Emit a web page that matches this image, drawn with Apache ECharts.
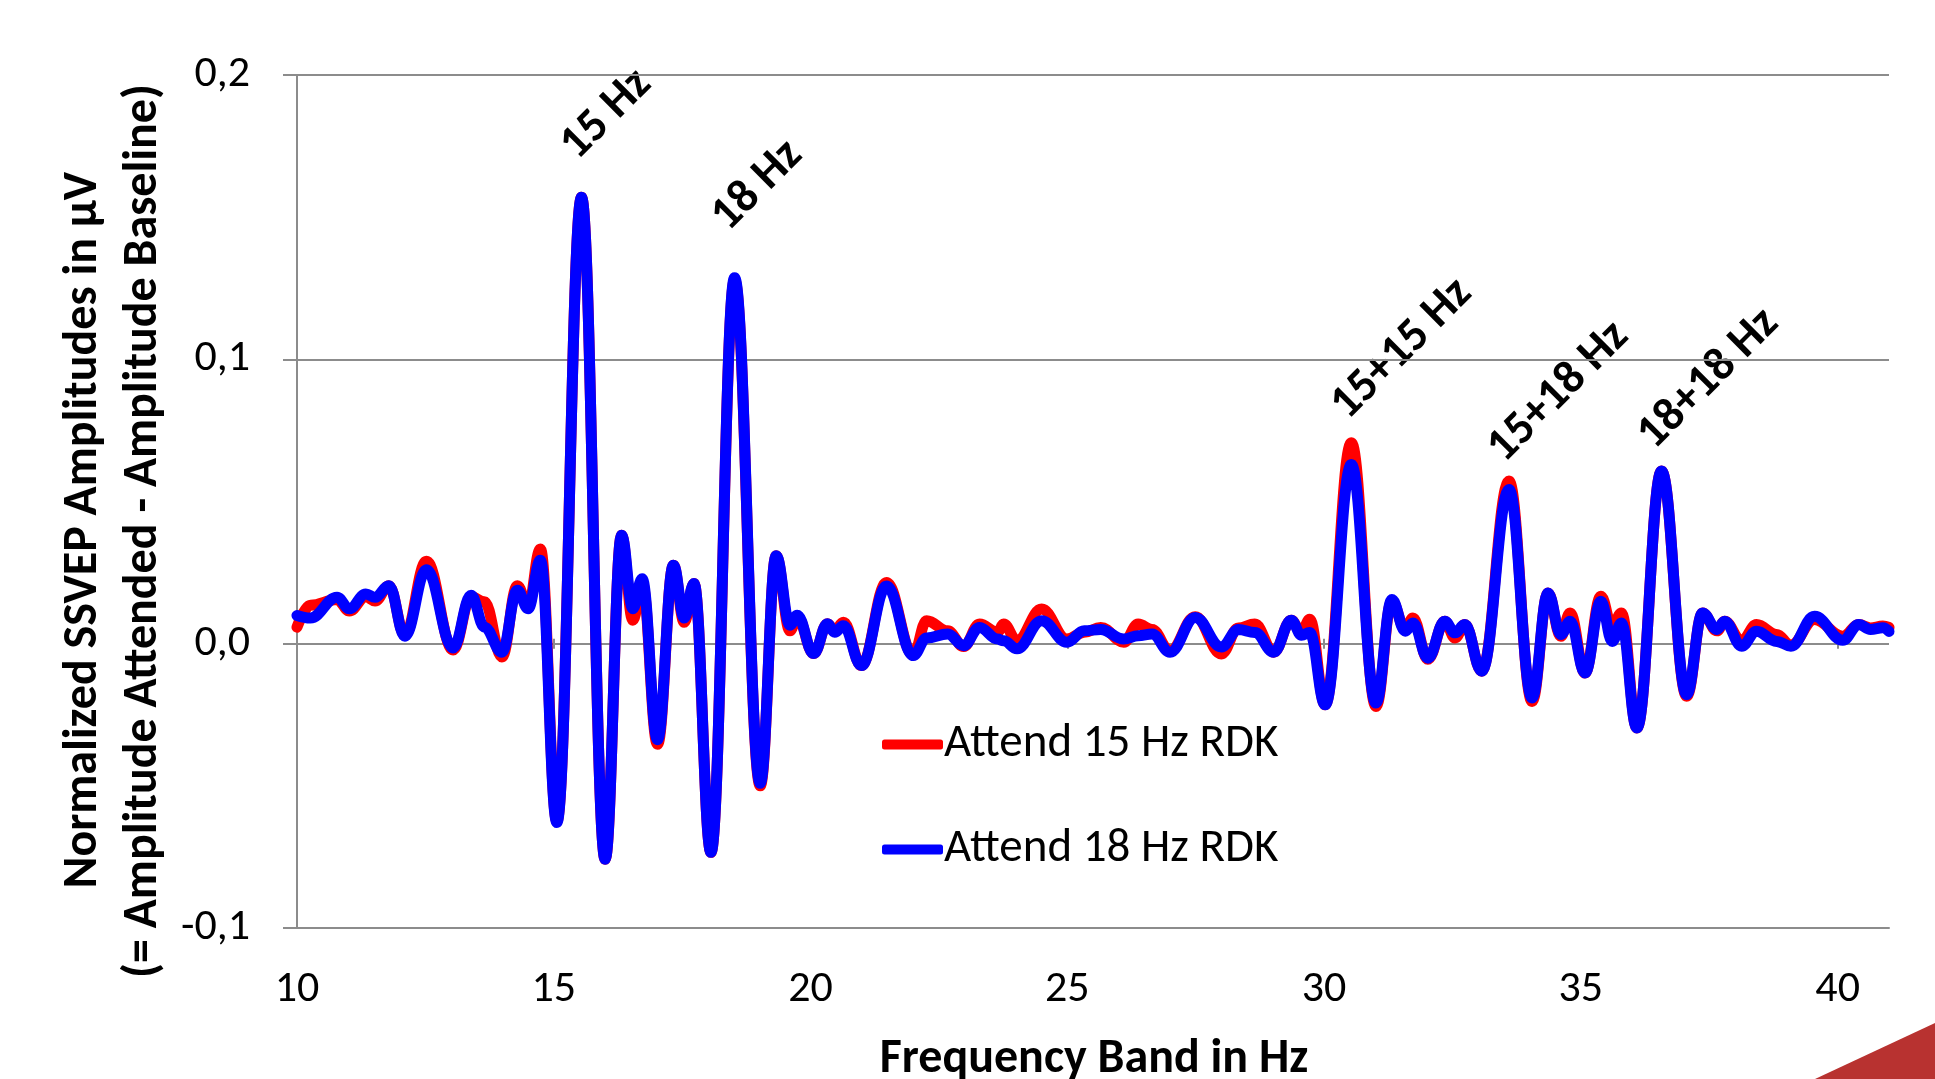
<!DOCTYPE html>
<html>
<head>
<meta charset="utf-8">
<title>Normalized SSVEP Amplitudes</title>
<script src="https://cdn.jsdelivr.net/npm/echarts@6.0.0/dist/echarts.min.js"></script>
<style>
  html, body { margin: 0; padding: 0; background: #fff; }
  #container { width: 1935px; height: 1079px; }
</style>
</head>
<body>
<div id="container"></div>
<script>
// frequency bins in Hz (at the extrema of the curves)
var freqs = [
  10.00, 10.26, 10.78, 11.02, 11.34, 11.52, 11.79, 12.10, 12.52, 13.04,
  13.39, 13.65, 13.99, 14.29, 14.50, 14.74, 15.06, 15.54, 16.00, 16.32,
  16.54, 16.72, 17.02, 17.33, 17.54, 17.73, 18.06, 18.52, 19.02, 19.33,
  19.60, 19.74, 20.06, 20.33, 20.47, 20.64, 20.99, 21.48, 22.00, 22.26,
  22.67, 22.98, 23.29, 23.64, 23.76, 24.02, 24.50, 24.99, 25.33, 25.65,
  26.10, 26.38, 26.65, 27.00, 27.49, 28.00, 28.33, 28.65, 29.02, 29.36,
  29.56, 29.72, 30.02, 30.53, 31.01, 31.32, 31.58, 31.73, 32.02, 32.35,
  32.55, 32.74, 33.07, 33.60, 34.05, 34.36, 34.61, 34.79, 35.08, 35.39,
  35.61, 35.79, 36.09, 36.57, 37.06, 37.37, 37.65, 37.80, 38.13, 38.42,
  38.81, 39.09, 39.55, 40.10, 40.41, 40.64, 40.88, 41.00
];

// Attend 15 Hz RDK (red)
var attend15 = [
  0.0058, 0.0135, 0.0155, 0.0115, 0.0165, 0.0150, 0.0204, 0.0030, 0.0290, -0.0022,
  0.0165, 0.0147, -0.0047, 0.0204, 0.0130, 0.0333, -0.0625, 0.1570, -0.0758, 0.0381,
  0.0082, 0.0215, -0.0354, 0.0276, 0.0075, 0.0212, -0.0734, 0.1280, -0.0500, 0.0309,
  0.0045, 0.0095, -0.0035, 0.0070, 0.0045, 0.0075, -0.0077, 0.0215, -0.0040, 0.0081,
  0.0045, -0.0010, 0.0069, 0.0040, 0.0069, 0.0010, 0.0122, 0.0016, 0.0040, 0.0057,
  0.0005, 0.0069, 0.0050, -0.0025, 0.0095, -0.0036, 0.0055, 0.0069, -0.0030, 0.0082,
  0.0040, 0.0086, -0.0215, 0.0707, -0.0221, 0.0150, 0.0050, 0.0090, -0.0055, 0.0079,
  0.0020, 0.0067, -0.0097, 0.0572, -0.0203, 0.0178, 0.0026, 0.0108, -0.0103, 0.0167,
  0.0060, 0.0108, -0.0297, 0.0607, -0.0185, 0.0108, 0.0045, 0.0079, 0.0010, 0.0067,
  0.0032, -0.0005, 0.0085, 0.0026, 0.0067, 0.0055, 0.0062, 0.0057
];

// Attend 18 Hz RDK (blue)
var attend18 = [
  0.0099, 0.0090, 0.0163, 0.0123, 0.0175, 0.0163, 0.0204, 0.0026, 0.0260, -0.0015,
  0.0170, 0.0058, -0.0030, 0.0188, 0.0123, 0.0293, -0.0629, 0.1570, -0.0758, 0.0381,
  0.0123, 0.0228, -0.0338, 0.0276, 0.0090, 0.0212, -0.0734, 0.1287, -0.0491, 0.0309,
  0.0065, 0.0100, -0.0035, 0.0070, 0.0040, 0.0063, -0.0077, 0.0203, -0.0042, 0.0020,
  0.0034, -0.0007, 0.0057, 0.0016, 0.0010, -0.0018, 0.0081, 0.0005, 0.0045, 0.0050,
  0.0016, 0.0028, 0.0034, -0.0030, 0.0092, -0.0012, 0.0050, 0.0039, -0.0030, 0.0082,
  0.0030, 0.0039, -0.0215, 0.0630, -0.0209, 0.0155, 0.0044, 0.0073, -0.0051, 0.0079,
  0.0038, 0.0067, -0.0097, 0.0542, -0.0191, 0.0178, 0.0032, 0.0079, -0.0103, 0.0149,
  0.0008, 0.0073, -0.0297, 0.0607, -0.0179, 0.0108, 0.0050, 0.0079, -0.0009, 0.0044,
  0.0008, -0.0009, 0.0096, 0.0012, 0.0067, 0.0050, 0.0056, 0.0043
];

var xTicks = [10, 15, 20, 25, 30, 35, 40];
var seriesNames = ['Attend 15 Hz RDK', 'Attend 18 Hz RDK'];

// peak annotations: text and the data point the text is centred on
var peakLabels = ['15 Hz', '18 Hz', '15+15 Hz', '15+18 Hz', '18+18 Hz'];
var peakAnchors = [[16.03, 0.186], [18.97, 0.161], [31.52, 0.1035], [34.57, 0.0884], [37.49, 0.093]];

var FONT = 'Carlito, Lato, sans-serif';
var GREY = '#8c8c8c';

function pairs(xs, ys) {
  return xs.map(function (x, i) { return [x, ys[i]]; });
}

var dom = document.getElementById('container');
var myChart = echarts.init(dom, null, { renderer: 'canvas' });

// small crossing tick marks sitting on the zero line
var zeroTickAxis = function (inside) {
  return {
    type: 'value', min: 10, max: 41, interval: 5, position: 'bottom',
    axisLine: { show: false, onZero: true, onZeroAxisIndex: 0 },
    axisTick: { show: true, inside: inside, length: 5, lineStyle: { color: GREY, width: 2 }, customValues: xTicks },
    axisLabel: { show: false },
    splitLine: { show: false }
  };
};

var option = {
  animation: false,
  backgroundColor: '#fff',
  grid: { left: 297, right: 46, top: 75, bottom: 151 },
  legend: {
    orient: 'vertical',
    left: 877,
    top: 716,
    itemGap: 58,
    itemWidth: 61,
    itemHeight: 10,
    icon: 'roundRect',
    data: seriesNames,
    textStyle: { fontFamily: FONT, fontSize: 47, color: '#000', padding: [0, 0, 0, -4] }
  },
  xAxis: [
    {
      type: 'value', min: 10, max: 41, interval: 5, position: 'bottom',
      axisLine: { show: true, onZero: false, lineStyle: { color: GREY, width: 2 } },
      axisTick: { show: false },
      axisLabel: {
        fontFamily: FONT, fontSize: 44, color: '#000', margin: 40,
        customValues: xTicks
      },
      splitLine: { show: false }
    },
    zeroTickAxis(false),
    zeroTickAxis(true)
  ],
  yAxis: {
    type: 'value', min: -0.1, max: 0.2, interval: 0.1,
    axisLine: { show: true, lineStyle: { color: GREY, width: 2 } },
    axisTick: { show: true, length: 14, lineStyle: { color: GREY, width: 2 } },
    axisLabel: {
      fontFamily: FONT, fontSize: 44, color: '#000', margin: 47,
      formatter: function (v) { return v.toFixed(1).replace('.', ','); }
    },
    splitLine: { show: true, lineStyle: { color: GREY, width: 2 } }
  },
  series: [
    {
      name: seriesNames[0], type: 'line', data: pairs(freqs, attend15),
      showSymbol: false, symbol: 'none', smooth: 0.4, smoothMonotone: 'x',
      lineStyle: { color: '#ff0000', width: 11, cap: 'round', join: 'round' },
      itemStyle: { color: '#ff0000' }
    },
    {
      name: seriesNames[1], type: 'line', data: pairs(freqs, attend18),
      showSymbol: false, symbol: 'none', smooth: 0.4, smoothMonotone: 'x',
      lineStyle: { color: '#0000ff', width: 11, cap: 'round', join: 'round' },
      itemStyle: { color: '#0000ff' }
    }
  ],
  graphic: [
    {
      type: 'text', id: 'ytitle1', x: 84, y: 530, rotation: Math.PI / 2,
      style: {
        text: 'Normalized SSVEP Amplitudes in \u00b5V', fill: '#000',
        fontFamily: FONT, fontWeight: 'bold', fontSize: 48,
        textAlign: 'center', textVerticalAlign: 'middle'
      }
    },
    {
      type: 'text', id: 'ytitle2', x: 144, y: 531, rotation: Math.PI / 2,
      style: {
        text: '(= Amplitude Attended - Amplitude Baseline)', fill: '#000',
        fontFamily: FONT, fontWeight: 'bold', fontSize: 48,
        textAlign: 'center', textVerticalAlign: 'middle'
      }
    },
    {
      type: 'text', id: 'xtitle', x: 1094, y: 1060,
      style: {
        text: 'Frequency Band in Hz', fill: '#000',
        fontFamily: FONT, fontWeight: 'bold', fontSize: 48,
        textAlign: 'center', textVerticalAlign: 'middle'
      }
    },
    {
      type: 'polygon', id: 'corner',
      shape: { points: [[1815, 1079], [1935, 1023], [1935, 1079]] },
      style: { fill: '#b83230' }
    }
  ]
};

myChart.setOption(option);

// rotated peak labels, placed through the chart's own coordinate system
var labelGraphics = peakLabels.map(function (txt, i) {
  var p = myChart.convertToPixel({ xAxisIndex: 0, yAxisIndex: 0 }, peakAnchors[i]);
  return {
    type: 'text', id: 'peak' + i, x: p[0], y: p[1], rotation: Math.PI / 4,
    style: {
      text: txt, fill: '#000',
      fontFamily: FONT, fontWeight: 'bold', fontSize: 47,
      textAlign: 'center', textVerticalAlign: 'middle'
    }
  };
});
myChart.setOption({ graphic: labelGraphics });

window.addEventListener('resize', myChart.resize);
</script>
</body>
</html>
